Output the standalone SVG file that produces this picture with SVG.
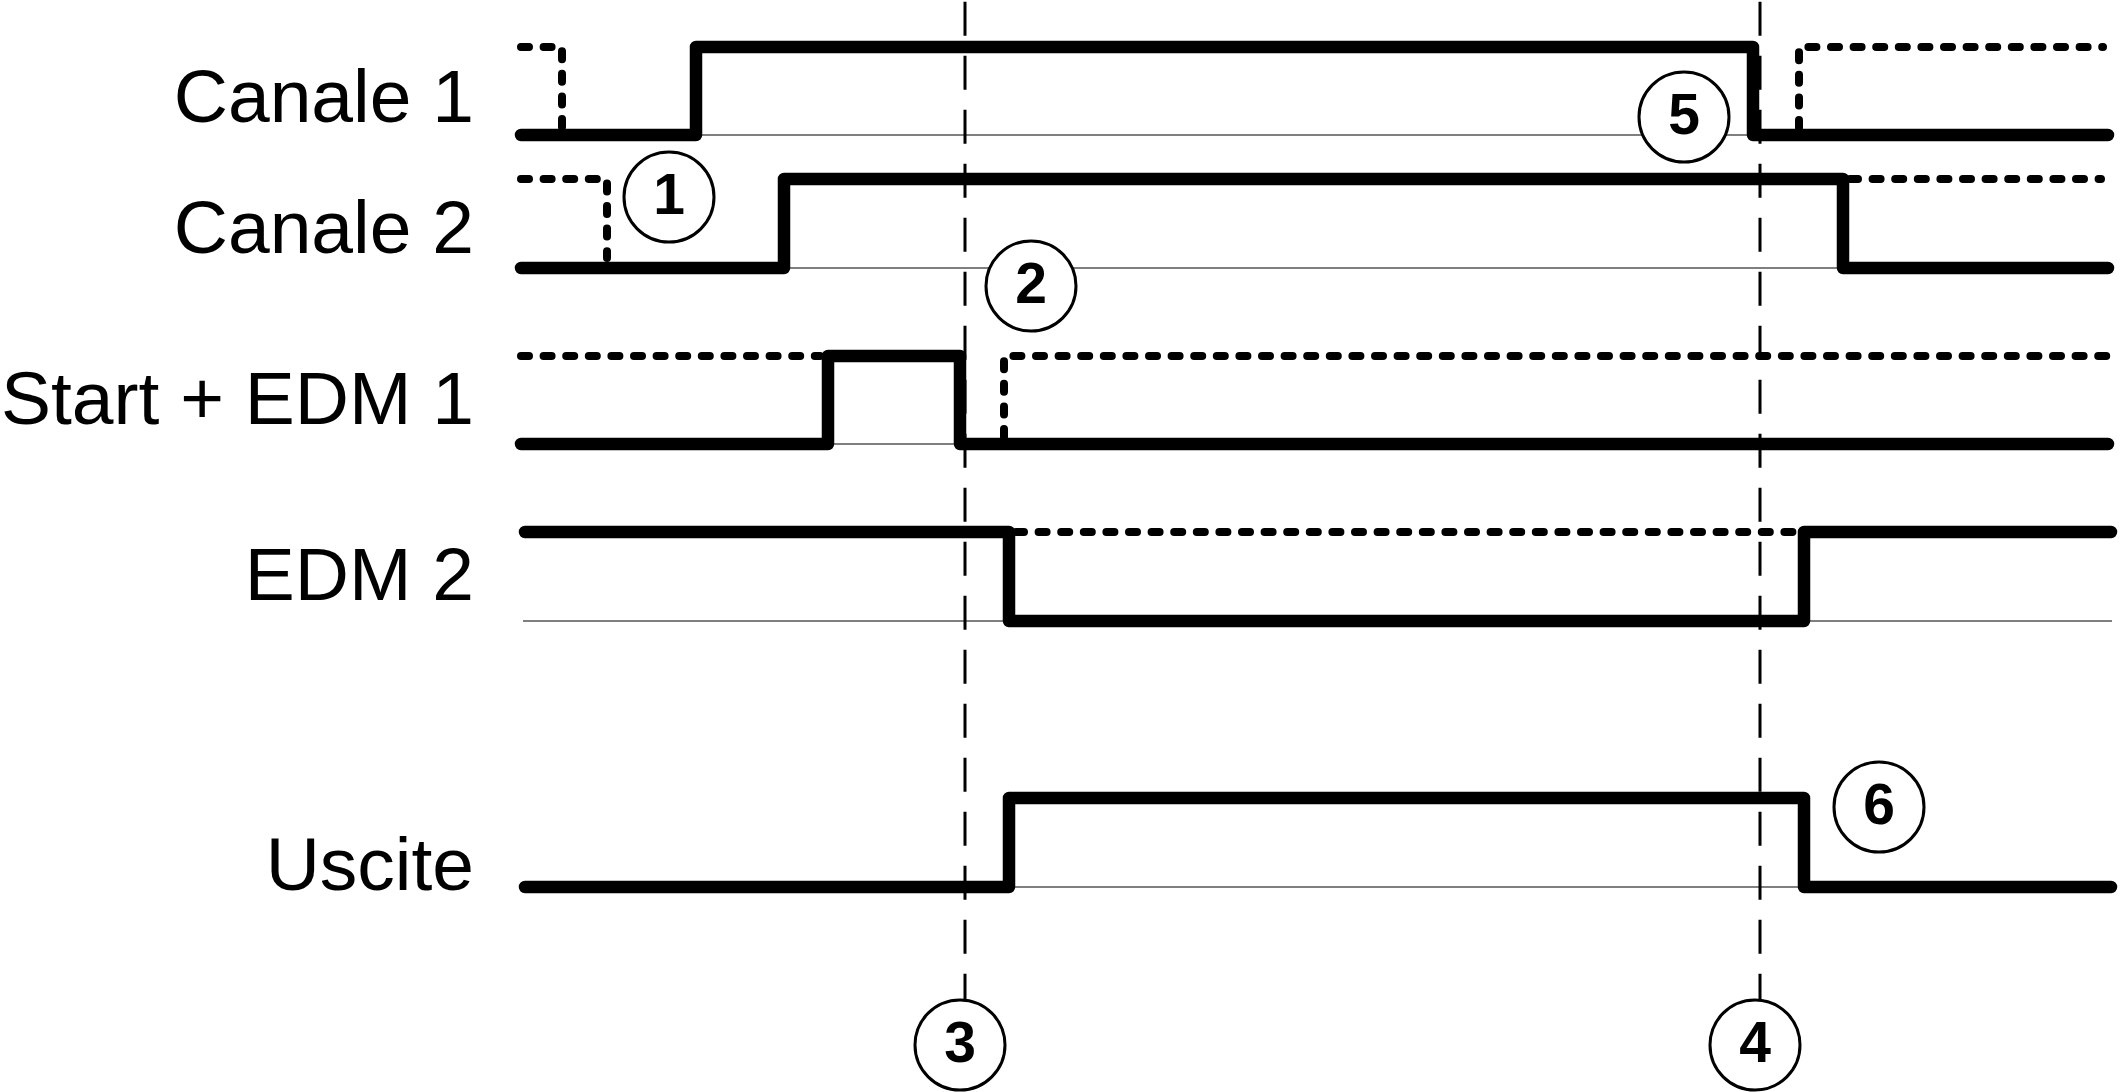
<svg xmlns="http://www.w3.org/2000/svg" width="2123" height="1092" viewBox="0 0 2123 1092">
<style>
.bg{fill:#ffffff}
.sig{fill:none;stroke:#000;stroke-width:12.5;stroke-linecap:round;stroke-linejoin:round}
.dot{fill:none;stroke:#000;stroke-width:8;stroke-linecap:round;stroke-dasharray:8 14.6}
.base{fill:none;stroke:#555;stroke-width:1.5}
.mark{fill:none;stroke:#000;stroke-width:3;stroke-dasharray:34 20}
.lbl{font-family:"Liberation Sans",Arial,sans-serif;font-size:75px;fill:#000;text-anchor:end}
.num circle{fill:#fff;stroke:#000;stroke-width:3}
.num text{font-family:"Liberation Sans",Arial,sans-serif;font-size:57px;font-weight:bold;fill:#000;text-anchor:middle}
</style>
<rect class="bg" x="0" y="0" width="2123" height="1092"/>
<g id="labels">
<text class="lbl" x="474" y="122">Canale 1</text>
<text class="lbl" x="474" y="253">Canale 2</text>
<text class="lbl" x="474" y="424">Start + EDM 1</text>
<text class="lbl" x="474" y="600">EDM 2</text>
<text class="lbl" x="474" y="890">Uscite</text>
</g>
<g id="connectors">
<g id="baselines">
<path class="base" d="M696,135 H1753"/>
<path class="base" d="M784,268 H1843"/>
<path class="base" d="M828,444 H960"/>
<path class="base" d="M523,621 H1009 M1804,621 H2112"/>
<path class="base" d="M1009,887 H1804"/>
</g>
<g id="dotted">
<path class="dot" d="M521,47 H562 V127"/>
<path class="dot" d="M1799,128 V47 H2103"/>
<path class="dot" d="M521,179 H607 V258"/>
<path class="dot" d="M1850,179 H2101"/>
<path class="dot" d="M521,356 H820"/>
<path class="dot" d="M1004,437 V356 H2107"/>
<path class="dot" d="M1016,532 H1797"/>
</g>
<g id="signals">
<path id="canale1" class="sig" d="M521,135 H696 V47 H1753 V135 H2108"/>
<path id="canale2" class="sig" d="M521,268 H784 V179 H1843 V268 H2108"/>
<path id="start-edm1" class="sig" d="M521,444 H828 V356 H960 V444 H2108"/>
<path id="edm2" class="sig" d="M525,532 H1009 V621 H1804 V532 H2111"/>
<path id="uscite" class="sig" d="M525,887 H1009 V798 H1804 V887 H2111"/>
</g>
<g id="markers">
<path class="mark" d="M965,1.7 V1000"/>
<path class="mark" d="M1760,1.7 V1000"/>
</g>
</g>
<g id="n1" class="num"><circle cx="669" cy="197" r="45"/><text x="669" y="213.5">1</text></g>
<g id="n2" class="num"><circle cx="1031" cy="286" r="45"/><text x="1031" y="302.5">2</text></g>
<g id="n3" class="num"><circle cx="960" cy="1045" r="45"/><text x="960" y="1061.5">3</text></g>
<g id="n4" class="num"><circle cx="1755" cy="1045" r="45"/><text x="1755" y="1061.5">4</text></g>
<g id="n5" class="num"><circle cx="1684" cy="117" r="45"/><text x="1684" y="133.5">5</text></g>
<g id="n6" class="num"><circle cx="1879" cy="807" r="45"/><text x="1879" y="823.5">6</text></g>
</svg>
